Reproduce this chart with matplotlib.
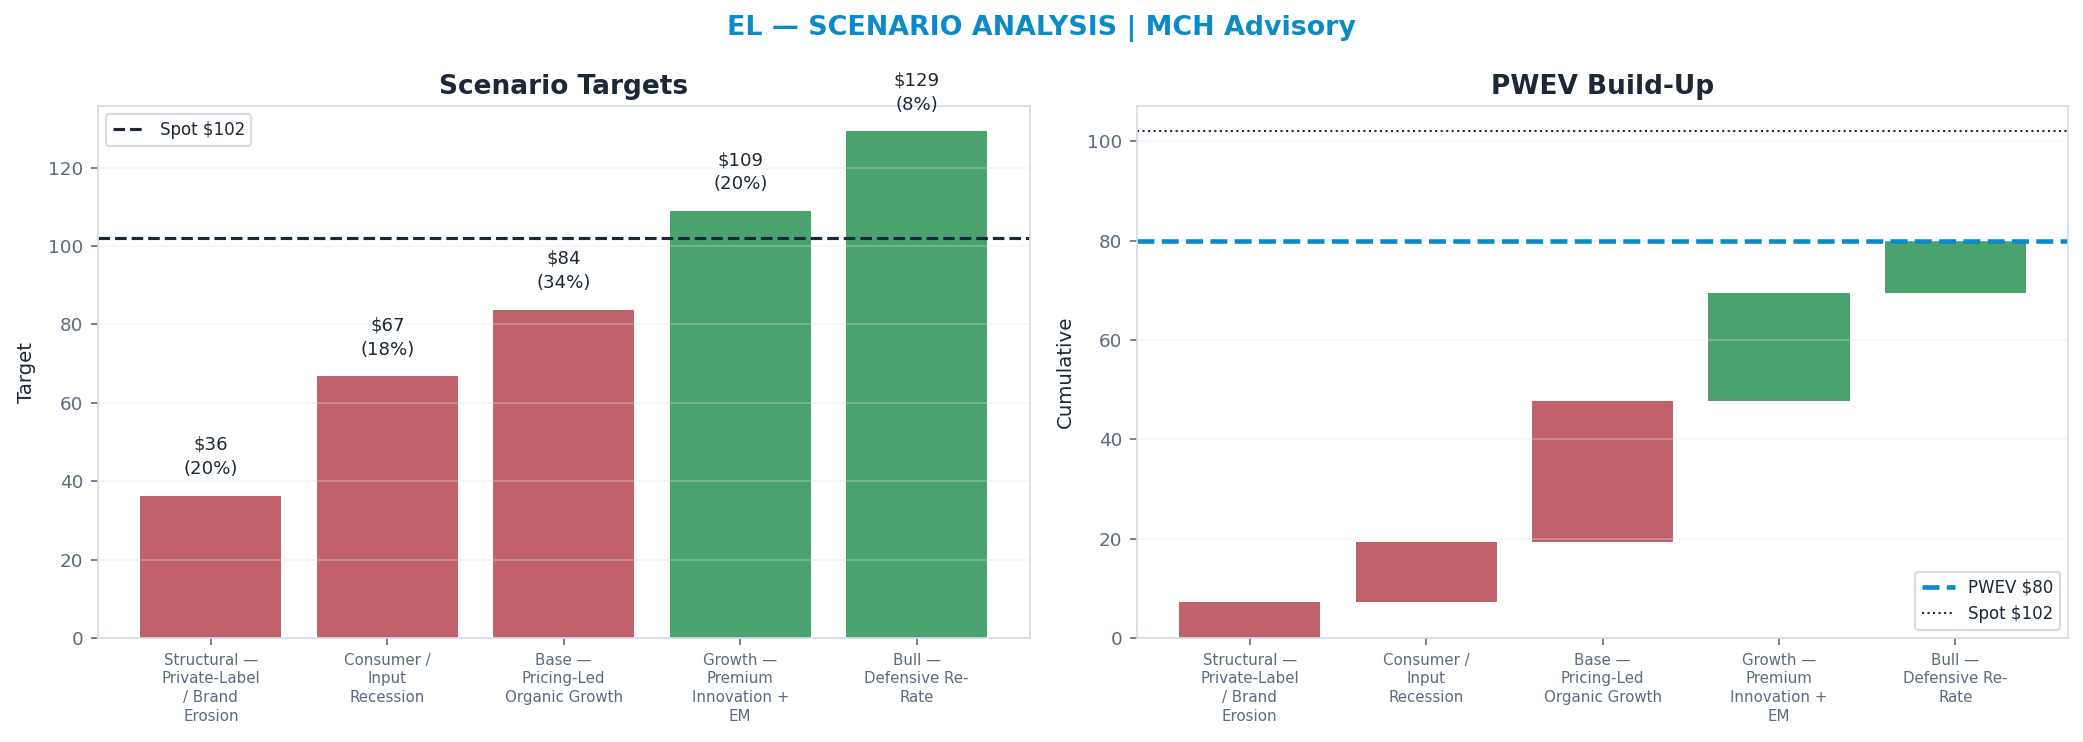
import numpy as np
import matplotlib
matplotlib.use("Agg")
import matplotlib.pyplot as plt

# scenario data
scenarios = ["Structural —\nPrivate-Label\n/ Brand\nErosion",
             "Consumer /\nInput\nRecession",
             "Base —\nPricing-Led\nOrganic Growth",
             "Growth —\nPremium\nInnovation +\nEM",
             "Bull —\nDefensive Re-\nRate"]
targets = [36.3, 66.8, 83.7, 108.9, 129.2]
probs = [0.20, 0.18, 0.34, 0.20, 0.08]
spot = 102

RED = "#c1616b"
GREEN = "#4aa36e"
BLUE = "#0a8bc7"
DARK = "#1c2737"
GREY = "#5b6b7f"
SPINE = "#d3dbe5"

colors = [RED if t < spot else GREEN for t in targets]
contrib = np.array(targets) * np.array(probs)
cum = np.cumsum(contrib)
bottoms = cum - contrib
pwev = cum[-1]

fig, (ax1, ax2) = plt.subplots(1, 2, figsize=(2083/150, 742/150), dpi=150)
fig.subplots_adjust(left=0.047, right=0.993, top=0.857, bottom=0.14, wspace=0.115)

x = np.arange(len(scenarios))

def style(ax):
    for s in ax.spines.values():
        s.set_color(SPINE)
    ax.tick_params(axis="y", colors=GREY, labelsize=8.8, length=3.5)
    ax.tick_params(axis="x", colors=GREY, labelsize=7.2, length=3.5)
    ax.grid(axis="y", color="#dfe5ec", alpha=0.35, lw=0.8)
    ax.set_xticks(x)
    ax.set_xticklabels(scenarios, linespacing=1.3)

# left: targets
ax1.bar(x, targets, width=0.8, color=colors)
ax1.axhline(spot, color=DARK, ls="--", lw=1.5, label=f"Spot ${spot}")
for i, (t, p) in enumerate(zip(targets, probs)):
    ax1.text(i, t + 4.5, f"${t:.0f}\n({p*100:.0f}%)", ha="center", va="bottom",
             fontsize=8.7, color=DARK, linespacing=1.45)
ax1.set_title("Scenario Targets", fontsize=12.7, fontweight="bold", color=DARK, pad=6)
ax1.set_ylabel("Target", fontsize=9.5, color=DARK, labelpad=6)
style(ax1)
leg1 = ax1.legend(loc="upper left", fontsize=8, frameon=True)
leg1.get_frame().set_edgecolor("#cfd4da")
for t in leg1.get_texts():
    t.set_color(DARK)

# right: waterfall of probability-weighted values
ax2.bar(x, contrib, bottom=bottoms, width=0.8, color=colors)
ax2.axhline(pwev, color=BLUE, ls="--", lw=2.2, label=f"PWEV ${pwev:.0f}")
ax2.axhline(spot, color=DARK, ls=":", lw=1.0, label=f"Spot ${spot}")
ax2.set_title("PWEV Build-Up", fontsize=12.7, fontweight="bold", color=DARK, pad=6)
ax2.set_ylabel("Cumulative", fontsize=9.5, color=DARK, labelpad=6)
style(ax2)
leg2 = ax2.legend(loc="lower right", fontsize=8, frameon=True)
leg2.get_frame().set_edgecolor("#cfd4da")
for t in leg2.get_texts():
    t.set_color(DARK)

fig.suptitle("EL — SCENARIO ANALYSIS | MCH Advisory", fontsize=12.9, fontweight="bold",
             color=BLUE, y=0.98)

fig.savefig("out.png", dpi=150)
